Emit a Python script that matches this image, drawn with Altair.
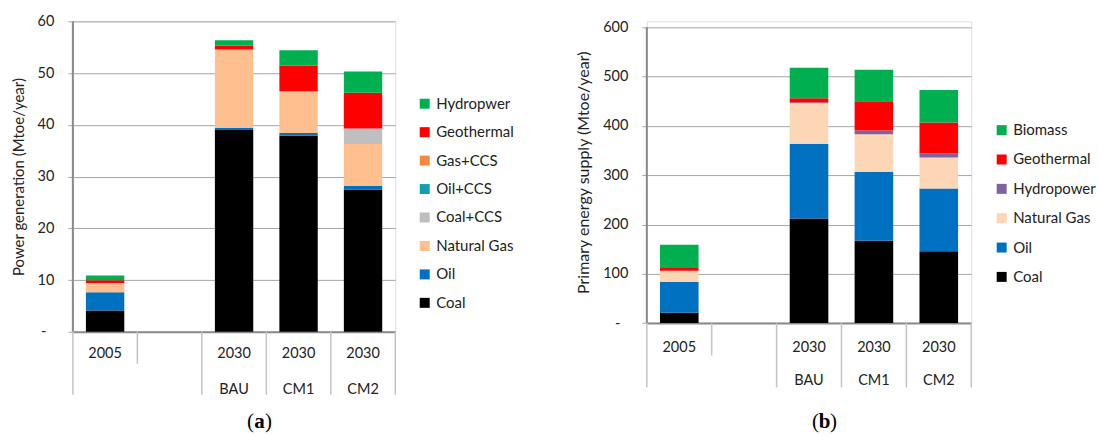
import altair as alt
import pandas as pd

# ---------------- shared category layout ----------------
cat_keys = ["2005", "gap", "BAU", "CM1", "CM2"]
year_row = ["2005", "", "2030", "2030", "2030"]
scen_row = ["", "", "BAU", "CM1", "CM2"]
bar_keys = ["2005", "BAU", "CM1", "CM2"]

# ---------------- (a) power generation, Mtoe/year ----------------
pg_series = ["Coal", "Oil", "Natural Gas", "Coal+CCS", "Oil+CCS", "Gas+CCS", "Geothermal", "Hydropwer"]
pg_colors = ["#000000", "#0070C0", "#FFBF8F", "#BFBFBF", "#119DB2", "#F58A3D", "#FF0000", "#00B050"]
pg_coal = [4.1, 39.0, 37.9, 27.5]
pg_oil = [3.55, 0.45, 0.5, 0.7]
pg_gas = [1.8, 15.1, 8.1, 8.1]
pg_coal_ccs = [0.0, 0.0, 0.0, 3.0]
pg_oil_ccs = [0.0, 0.0, 0.0, 0.0]
pg_gas_ccs = [0.0, 0.0, 0.0, 0.0]
pg_geo = [0.5, 0.8, 4.95, 6.9]
pg_hydro = [0.95, 1.0, 2.95, 4.1]
pg_ticks = [0, 10, 20, 30, 40, 50, 60]

# ---------------- (b) primary energy supply, Mtoe/year ----------------
pe_series = ["Coal", "Oil", "Natural Gas", "Hydropower", "Geothermal", "Biomass"]
pe_colors = ["#000000", "#0070C0", "#FDD6B5", "#7F62A1", "#FF0000", "#00B050"]
pe_coal = [21, 212, 167, 146]
pe_oil = [63, 152, 140, 127]
pe_gas = [22, 82, 76, 63]
pe_hydro = [0, 2, 8, 8]
pe_geo = [6, 8, 59, 63]
pe_bio = [47, 62, 64, 66]
pe_ticks = [0, 100, 200, 300, 400, 500, 600]

FONT = "Lato"
TXT = "#222222"
GRID = "#A6A6A6"
AXIS = "#8A8A8A"
SEP = "#C4C4C4"


def long_table(series, columns):
    rows = []
    for i, (name, vals) in enumerate(zip(series, columns)):
        for cat, v in zip(bar_keys, vals):
            rows.append({"cat": cat, "series": name, "value": v, "order": i})
    return pd.DataFrame(rows)


def panel(df, series, colors, ticks, ymax, width, height, ytitle, title_size,
          leg_x, leg_y, leg_pad, row1, row2, sep_len, short_len, letter, letter_x):
    xscale = alt.Scale(domain=cat_keys, paddingInner=0, paddingOuter=0)
    xaxis = alt.Axis(labels=False, ticks=False, title=None, grid=False,
                     domain=True, domainColor=AXIS, domainWidth=2)
    legend_order = list(reversed(series))
    legend_colors = list(reversed(colors))

    bars = alt.Chart(df).mark_bar(width=alt.RelativeBandSize(0.595)).encode(
        x=alt.X("cat:N", scale=xscale, axis=xaxis),
        y=alt.Y(
            "value:Q", stack="zero",
            scale=alt.Scale(domain=[0, ymax], nice=False, zero=True),
            axis=alt.Axis(
                values=ticks,
                labelExpr="datum.value == 0 ? '-' : datum.label",
                grid=True, gridColor=GRID, gridWidth=1,
                tickColor=GRID, tickSize=5, tickWidth=1,
                domain=False,
                labelPadding={"condition": {"test": "datum.value == 0", "value": 22}, "value": 14},
                labelFontSize=14.5, labelColor=TXT, labelFont=FONT,
                title=ytitle, titleFontSize=title_size, titleFontWeight="normal",
                titleColor=TXT, titleFont=FONT, titlePadding=11,
            ),
        ),
        color=alt.Color(
            "series:N",
            scale=alt.Scale(domain=legend_order, range=legend_colors),
            legend=alt.Legend(
                orient="none", legendX=leg_x, legendY=leg_y, title=None,
                symbolType="square", symbolSize=100, symbolStrokeWidth=0,
                labelFontSize=15, labelFont=FONT, labelColor=TXT, labelOffset=4,
                rowPadding=leg_pad, padding=0, labelLimit=200,
            ),
        ),
        order=alt.Order("order:Q", sort="ascending"),
    )

    # y-axis line drawn from 0 up to the top tick
    yline = alt.Chart(pd.DataFrame({"lo": [0], "hi": [ticks[-1]]})).mark_rule(
        color=AXIS, strokeWidth=2
    ).encode(x=alt.value(0), y=alt.Y("lo:Q", scale=alt.Scale(domain=[0, ymax], nice=False)), y2="hi:Q")

    cats = pd.DataFrame({"cat": cat_keys, "year": year_row, "scen": scen_row})
    long_sep = pd.DataFrame({"cat": ["2005", "BAU", "CM1", "CM2"]})
    short_sep = pd.DataFrame({"cat": ["gap"]})
    end_sep = pd.DataFrame({"cat": ["CM2"]})

    seps = alt.Chart(long_sep).mark_rule(color=SEP, strokeWidth=1.5).encode(
        x=alt.X("cat:N", bandPosition=0, scale=xscale, axis=xaxis),
        y=alt.value(height), y2=alt.value(height + sep_len),
    )
    seps_short = alt.Chart(short_sep).mark_rule(color=SEP, strokeWidth=1.5).encode(
        x=alt.X("cat:N", bandPosition=0, scale=xscale, axis=xaxis),
        y=alt.value(height), y2=alt.value(height + short_len),
    )
    seps_end = alt.Chart(end_sep).mark_rule(color=SEP, strokeWidth=1.5).encode(
        x=alt.X("cat:N", bandPosition=1, scale=xscale, axis=xaxis),
        y=alt.value(height), y2=alt.value(height + sep_len),
    )
    years = alt.Chart(cats).mark_text(font=FONT, fontSize=14.5, color=TXT, baseline="middle").encode(
        x=alt.X("cat:N", scale=xscale, axis=xaxis), y=alt.value(height + row1), text="year:N"
    )
    scens = alt.Chart(cats).mark_text(font=FONT, fontSize=14.5, color=TXT, baseline="middle").encode(
        x=alt.X("cat:N", scale=xscale, axis=xaxis), y=alt.value(height + row2), text="scen:N"
    )

    # panel letter "(a)" / "(b)" with a bold letter
    ly = 401
    lp = alt.Chart(pd.DataFrame({"t": ["("]})).mark_text(
        font="Liberation Serif", fontSize=21, color="#000", align="right", baseline="middle"
    ).encode(x=alt.value(letter_x - 5.5), y=alt.value(ly), text="t:N")
    lm = alt.Chart(pd.DataFrame({"t": [letter]})).mark_text(
        font="Liberation Serif", fontSize=21, fontWeight="bold", color="#000", align="center", baseline="middle"
    ).encode(x=alt.value(letter_x), y=alt.value(ly), text="t:N")
    rp = alt.Chart(pd.DataFrame({"t": [")"]})).mark_text(
        font="Liberation Serif", fontSize=21, color="#000", align="left", baseline="middle"
    ).encode(x=alt.value(letter_x + 5.5), y=alt.value(ly), text="t:N")

    return alt.layer(bars, yline, seps, seps_short, seps_end, years, scens, lp, lm, rp).properties(
        width=width, height=height
    )


pg_df = long_table(pg_series, [pg_coal, pg_oil, pg_gas, pg_coal_ccs, pg_oil_ccs, pg_gas_ccs, pg_geo, pg_hydro])
pe_df = long_table(pe_series, [pe_coal, pe_oil, pe_gas, pe_hydro, pe_geo, pe_bio])

left = panel(pg_df, pg_series, pg_colors, pg_ticks, 60, 323, 311,
             "Power generation (Mtoe/year)", 15, 345, 75, 12.5, 22, 58, 63, 32, "a", 187)
right = panel(pe_df, pe_series, pe_colors, pe_ticks, 612.2, 325, 302.3,
              "Primary energy supply (Mtoe/year)", 16, 348, 101.5, 13.4, 25, 58, 64.5, 32.5, "b", 178)

chart = alt.hconcat(left, right, spacing=252, bounds="flush").resolve_scale(
    x="independent", y="independent", color="independent"
).resolve_legend(color="independent").properties(
    padding={"left": 10, "top": 12, "right": 2, "bottom": 2}
).configure_view(stroke=None).configure(font=FONT)

chart.save("out.html", embed_options={"renderer": "svg", "actions": False})
